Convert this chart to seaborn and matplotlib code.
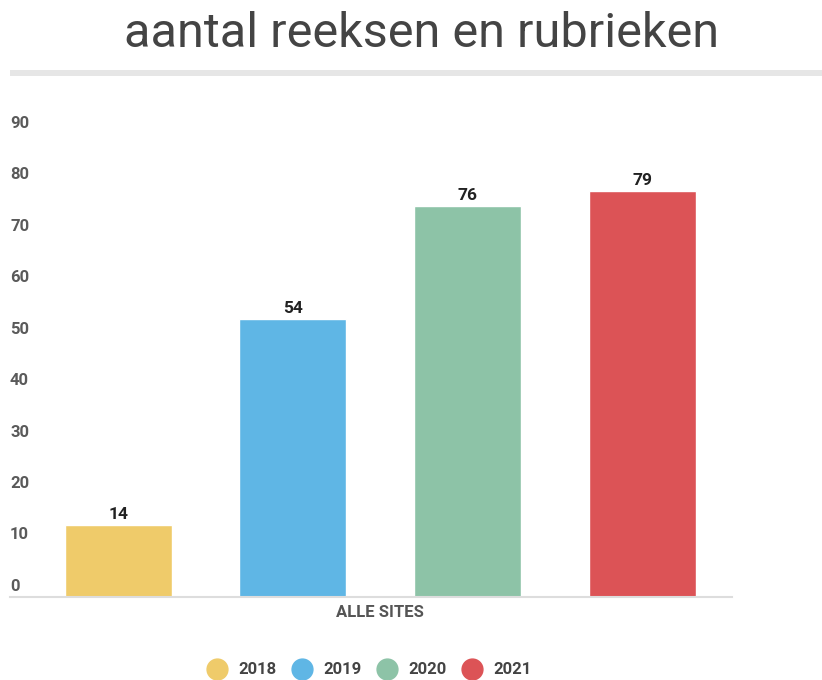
import numpy as np
import pandas as pd
import seaborn as sns
import matplotlib.pyplot as plt
from matplotlib.lines import Line2D
from matplotlib.patches import Rectangle
import matplotlib.transforms as mtransforms

# chart data
years = ['2018', '2019', '2020', '2021']
counts = [14, 54, 76, 79]
category = 'ALLE SITES'
colors = ['#EFCB6A', '#5FB6E5', '#8DC3A7', '#DC5356']
yticks = [0, 10, 20, 30, 40, 50, 60, 70, 80, 90]


def main():
    sns.set_style('white')
    plt.rcParams['font.family'] = ['Roboto', 'DejaVu Sans']

    data = pd.DataFrame({'site': [category] * len(years), 'year': years, 'value': counts})

    fig = plt.figure(figsize=(8.22, 6.8), dpi=100)
    ax = fig.add_axes([10 / 822, 83 / 680, 722 / 822, 463 / 680])

    sns.barplot(data=data, x='site', y='value', hue='year', palette=colors,
                width=0.8, gap=0.387, saturation=1, ax=ax, legend=False)

    for cont in ax.containers:
        ax.bar_label(cont, fontsize=12.5, fontweight='bold', color='#222222', padding=2)

    ax.set_ylim(0, 90)
    ax.set_xlim(-0.424, 0.403)
    ax.set_yticks(yticks)
    ax.set_yticklabels([])
    ax.tick_params(axis='y', length=0)
    trans = mtransforms.blended_transform_factory(ax.transAxes, ax.transData)
    for v in yticks:
        ax.text(0, v + 0.6, str(v), transform=trans, ha='left', va='bottom',
                fontsize=12, fontweight='bold', color='#5a5a5a')

    ax.tick_params(axis='x', length=0, pad=6, labelsize=12, labelcolor='#555555')
    for lbl in ax.get_xticklabels():
        lbl.set_fontweight('bold')
    ax.set_xlabel('')
    ax.set_ylabel('')

    for side in ['top', 'right', 'left']:
        ax.spines[side].set_visible(False)
    ax.spines['bottom'].set_color('#dddddd')
    ax.spines['bottom'].set_linewidth(1.5)

    # title and separator line
    fig.text(422 / 822, 1 - 34 / 680, 'aantal reeksen en rubrieken', ha='center', va='center',
             fontsize=35, color='#444444')
    fig.add_artist(Rectangle((10 / 822, 1 - 76 / 680), 812 / 822, 6 / 680,
                             transform=fig.transFigure, color='#e6e6e6', lw=0))

    handles = [Line2D([], [], marker='o', linestyle='', markersize=15,
                      markerfacecolor=c, markeredgecolor=c) for c in colors]
    fig.legend(handles, years, loc='center', bbox_to_anchor=(366 / 822, 1 - 670 / 680),
               ncol=4, frameon=False, handletextpad=0.3, columnspacing=0.5,
               labelcolor='#444444', prop={'weight': 'bold', 'size': 12})

    plt.savefig('out.png')
    plt.close()


if __name__ == "__main__":
    main()
